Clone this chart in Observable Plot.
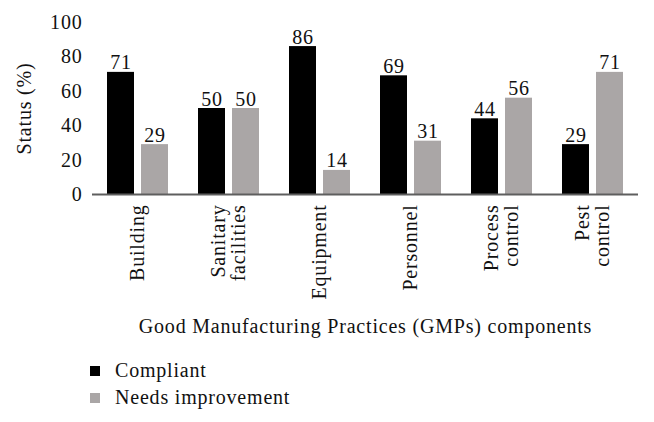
<!DOCTYPE html>
<html>
<head>
<meta charset="utf-8">
<script src="https://cdn.jsdelivr.net/npm/d3@7"></script>
<script src="https://cdn.jsdelivr.net/npm/@observablehq/plot@0.6"></script>
<style>
  body { margin: 0; background: #fff; font-family: "Liberation Serif", serif; }
  #legend { margin-left: 90px; margin-top: 12px; font-size: 20px; letter-spacing: 0.8px; color: #111; }
  .row { display: flex; align-items: center; height: 27px; }
  .sw { width: 10px; height: 10px; margin-right: 15px; }
</style>
</head>
<body>
<div id="chart"></div>
<div id="legend"></div>
<script>
const components = ["Building", "Sanitary\nfacilities", "Equipment", "Personnel", "Process\ncontrol", "Pest\ncontrol"];
const statuses = ["Compliant", "Needs improvement"];
const compliant = [71, 50, 86, 69, 44, 29];
const needsImprovement = [29, 50, 14, 31, 56, 71];
const yTicks = [0, 20, 40, 60, 80, 100];
const colors = ["#000000", "#aaa6a6"];

const data = [];
components.forEach((c, i) => {
  data.push({component: c, status: statuses[0], value: compliant[i]});
  data.push({component: c, status: statuses[1], value: needsImprovement[i]});
});

const chart = Plot.plot({
  width: 654,
  height: 345,
  marginTop: 22,
  marginLeft: 90,
  marginRight: 15,
  marginBottom: 151,
  style: {fontFamily: "Liberation Serif", fontSize: "20px", letterSpacing: "0.8px", color: "#111", background: "#fff"},
  fx: {domain: components, padding: 0, label: null},
  x: {domain: statuses, paddingInner: 0.2, paddingOuter: 0.407, axis: null},
  y: {domain: [0, 100], axis: null},
  color: {domain: statuses, range: colors},
  marks: [
    Plot.barY(data, {fx: "component", x: "status", y: "value", fill: "status"}),
    Plot.ruleY([0], {stroke: "#5e5e5e", strokeWidth: 2}),
    Plot.text(data, {fx: "component", x: "status", y: "value", text: d => String(d.value), lineAnchor: "bottom", dy: -3, fill: "#111"}),
    Plot.axisY({ticks: yTicks, tickSize: 0, tickPadding: 10, label: "Status (%)", labelArrow: "none", labelAnchor: "center", labelOffset: 76}),
    Plot.axisFx({anchor: "bottom", tickRotate: -90, tickSize: 0, tickPadding: 10, lineAnchor: "middle", label: "Good Manufacturing Practices (GMPs) components", labelArrow: "none", labelAnchor: "center", labelOffset: 138})
  ]
});
document.getElementById("chart").appendChild(chart);

const legend = document.getElementById("legend");
statuses.forEach((s, i) => {
  const row = document.createElement("div");
  row.className = "row";
  const sw = document.createElement("div");
  sw.className = "sw";
  sw.style.background = colors[i];
  const t = document.createElement("span");
  t.textContent = s;
  row.appendChild(sw);
  row.appendChild(t);
  legend.appendChild(row);
});
</script>
</body>
</html>
